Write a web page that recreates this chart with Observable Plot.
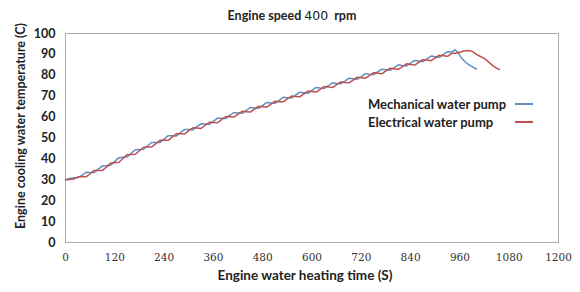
<!DOCTYPE html>
<html><head><meta charset="utf-8">
<script src="https://cdn.jsdelivr.net/npm/d3@7"></script>
<script src="https://cdn.jsdelivr.net/npm/@observablehq/plot@0.6"></script>
<style>
body{margin:0;background:#fff;}
#wrap{position:relative;width:580px;height:292px;font-family:Lato,"Open Sans",sans-serif;}
#title{position:absolute;top:8px;left:0;width:580px;text-align:center;font-weight:bold;font-size:12.5px;color:#222;padding-left:2px}
#legend{position:absolute;left:368px;top:95px;font-weight:bold;font-size:13px;color:#222;line-height:18px}
#legend .row{display:flex;align-items:center;justify-content:space-between;width:165px}
#legend .sw{display:inline-block;width:18px;height:2px}
</style></head><body>
<div id="wrap"><div id="title">Engine speed <span style="font-weight:normal;font-family:'DejaVu Sans'">400</span>&nbsp; rpm</div><div id="legend"></div></div>
<script>
const xLabel = "Engine water heating time (S)";
const yLabel = "Engine cooling water temperature (C)";
const seriesNames = ["Mechanical water pump", "Electrical water pump"];
const seriesColors = ["#5f90c0", "#c0504d"];
const xTicks = [0,120,240,360,480,600,720,840,960,1080,1200];
const yTicks = [0,10,20,30,40,50,60,70,80,90,100];

const mechTime = [0,10,20,30,40,50,60,70,80,90,100,110,120,130,140,150,160,170,180,190,200,210,220,230,240,250,260,270,280,290,300,310,320,330,340,350,360,370,380,390,400,410,420,430,440,450,460,470,480,490,500,510,520,530,540,550,560,570,580,590,600,610,620,630,640,650,660,670,680,690,700,710,720,730,740,750,760,770,780,790,800,810,820,830,840,850,860,870,880,890,900,910,920,930,940,948,955,965,975,985,1000];
const mechTemp = [30.0,30.6,31.0,31.0,32.1,33.6,33.5,33.5,35.1,36.7,36.8,37.0,38.8,40.6,40.8,41.0,42.7,44.4,44.5,44.6,46.3,47.9,47.9,47.9,49.5,51.1,51.1,51.0,52.6,54.1,54.1,53.9,55.4,56.8,56.7,56.5,58.0,59.5,59.4,59.3,60.8,62.2,62.0,61.8,63.2,64.6,64.4,64.2,65.6,67.0,66.8,66.6,68.0,69.5,69.3,69.1,70.5,71.9,71.7,71.4,72.8,74.2,73.9,73.7,75.0,76.4,76.1,75.9,77.2,78.6,78.3,78.1,79.4,80.8,80.5,80.3,81.6,82.9,82.7,82.4,83.7,85.0,84.7,84.5,85.8,87.1,86.8,86.5,87.9,89.2,88.9,88.6,90.0,91.3,91.1,92.2,91.0,88.0,86.0,84.6,83.0];

const elecTime = [0,10,20,30,40,50,60,70,80,90,100,110,120,130,140,150,160,170,180,190,200,210,220,230,240,250,260,270,280,290,300,310,320,330,340,350,360,370,380,390,400,410,420,430,440,450,460,470,480,490,500,510,520,530,540,550,560,570,580,590,600,610,620,630,640,650,660,670,680,690,700,710,720,730,740,750,760,770,780,790,800,810,820,830,840,850,860,870,880,890,900,910,920,930,940,950,960,970,980,990,1000,1010,1020,1030,1040,1050,1056];
const elecTemp = [30.0,30.1,30.4,31.4,31.5,31.4,32.9,34.5,34.5,34.5,36.2,38.0,38.2,38.4,40.2,42.0,42.1,42.2,43.9,45.6,45.7,45.7,47.3,48.9,48.9,48.9,50.5,52.0,52.0,51.9,53.5,54.9,54.8,54.6,56.1,57.5,57.4,57.3,58.8,60.3,60.2,60.0,61.4,62.8,62.6,62.4,63.8,65.2,65.0,64.8,66.2,67.6,67.4,67.3,68.7,70.1,69.9,69.7,71.1,72.4,72.2,72.0,73.3,74.7,74.4,74.2,75.5,76.9,76.6,76.4,77.7,79.1,78.8,78.6,79.9,81.3,81.0,80.7,82.1,83.4,83.1,82.8,84.1,85.5,85.2,84.9,86.2,87.5,87.3,87.0,88.3,89.6,89.4,89.1,90.5,90.6,91.0,91.6,91.9,91.5,90.0,89.0,88.0,86.3,84.6,83.3,82.8];

const data = [
  ...mechTime.map((t,i)=>({t, v: mechTemp[i], s: seriesNames[0]})),
  ...elecTime.map((t,i)=>({t, v: elecTemp[i], s: seriesNames[1]}))
];

const chart = Plot.plot({
  width: 580, height: 292,
  marginLeft: 65, marginRight: 22, marginTop: 33, marginBottom: 50,
  style: {background: "transparent", overflow: "visible"},
  x: {domain: [0,1200], label: null},
  y: {domain: [0,100], label: null},
  color: {domain: seriesNames, range: seriesColors},
  marks: [
    Plot.frame({stroke: "#ababab", strokeWidth: 1}),
    Plot.axisX({ticks: xTicks, tickFormat: d => String(d), tickSize: 0, tickPadding: 11, fontFamily: "'DejaVu Serif', serif", fontSize: 10.5, fill: "#333", label: null}),
    Plot.axisY({ticks: yTicks, tickSize: 0, tickPadding: 10, fontFamily: "Lato, sans-serif", fontWeight: "bold", fontSize: 12.5, fill: "#222", label: null}),
    Plot.line(data, {x: "t", y: "v", z: "s", stroke: "s", strokeWidth: 1.5}),
    Plot.text([xLabel], {frameAnchor: "bottom", dy: 37, dx: -7, textAnchor: "middle", fontWeight: "bold", fontSize: 13.5, fill: "#222", fontFamily: "Lato, sans-serif"}),
    Plot.text([yLabel], {frameAnchor: "left", dx: -45, dy: -12, rotate: -90, textAnchor: "middle", fontWeight: "bold", fontSize: 13, fill: "#222", fontFamily: "Lato, sans-serif"})
  ]
});
const yl = Array.from(chart.querySelectorAll("text")).find(t => t.textContent === yLabel);
if (yl) { yl.setAttribute("textLength", 206); yl.setAttribute("lengthAdjust", "spacingAndGlyphs"); }
const wrap = document.getElementById("wrap");
wrap.insertBefore(chart, wrap.firstChild);
const leg = document.getElementById("legend");
seriesNames.forEach((n,i)=>{
  const r = document.createElement("div"); r.className = "row";
  r.innerHTML = `<span>${n}</span><span class="sw" style="background:${seriesColors[i]}"></span>`;
  leg.appendChild(r);
});
</script>
</body></html>
